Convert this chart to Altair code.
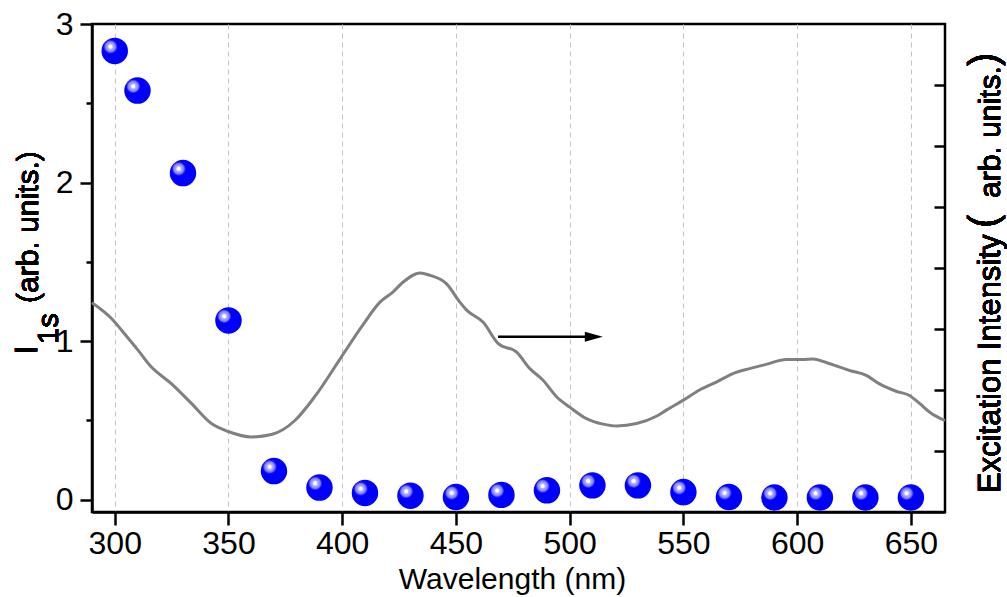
import altair as alt
import pandas as pd

# I_1s data (blue spheres)
wl_pts = [300, 310, 330, 350, 370, 390, 410, 430, 450, 470, 490, 510, 530, 550, 570, 590, 610, 630, 650]
i1s = [2.83, 2.58, 2.06, 1.13, 0.18, 0.076, 0.042, 0.025, 0.016, 0.03, 0.059, 0.09, 0.09, 0.048, 0.016, 0.013, 0.013, 0.013, 0.013]

# Excitation intensity curve (right axis, arb. units)
wl_curve = [290, 299.4, 303, 310.3, 315.5, 325, 333.7, 342.5, 349.9, 360, 368.9, 379.2, 387.9, 399.6,
            408.4, 416.6, 422.4, 426.8, 434.2, 438.6, 445.9, 451.7, 454.7, 462, 468.6, 476.7, 482.5,
            488.3, 494.2, 500, 507.4, 514.7, 520.6, 529.4, 538.1, 542.5, 549.8, 557.1, 564.5, 571.8,
            579.1, 586.4, 595.2, 602.5, 606.9, 614.3, 623.1, 630.4, 636.2, 643.5, 649.4, 653.8, 658.9, 665]
exc = [3.43, 3.14, 2.98, 2.65, 2.40, 2.10, 1.78, 1.45, 1.32, 1.23, 1.27, 1.50, 1.89, 2.54,
       3.03, 3.44, 3.61, 3.77, 3.92, 3.88, 3.74, 3.44, 3.31, 3.11, 2.76, 2.62, 2.35,
       2.16, 1.89, 1.72, 1.53, 1.44, 1.41, 1.45, 1.57, 1.67, 1.83, 2.00, 2.13, 2.27,
       2.35, 2.42, 2.50, 2.50, 2.51, 2.43, 2.32, 2.24, 2.10, 1.98, 1.91, 1.78, 1.62, 1.50]

# arrow annotation (pointing to right axis)
arrow_x = [468.5]
arrow_x2 = [507.0]
arrow_head_x = [510.6]
arrow_y = [1.027]

x_ticks = [300, 350, 400, 450, 500, 550, 600, 650]
y_ticks = [0, 0.5, 1, 1.5, 2, 2.5, 3]
y2_ticks = [1, 2, 3, 4, 5, 6, 7]

FONT = "Liberation Sans"

pts_df = pd.DataFrame({"wl": wl_pts, "i1s": i1s})
curve_df = pd.DataFrame({"wl": wl_curve, "exc": exc})
arrow_df = pd.DataFrame({"x": arrow_x, "x2": arrow_x2, "hx": arrow_head_x, "y": arrow_y})

xscale = alt.Scale(domain=[290, 665], nice=False, zero=False)
yscale = alt.Scale(domain=[-0.078, 3.0], nice=False, zero=False)

x_axis = alt.Axis(
    values=x_ticks, title="Wavelength (nm)", labelFontSize=32, titleFontSize=30,
    tickSize=13, tickWidth=2.5, tickColor="black", domainColor="black", domainWidth=2.5,
    labelPadding=3, labelColor="black", titleColor="black", titleFontWeight="normal",
    grid=True, gridDash=[5, 4], gridColor="#c4c4c4", gridWidth=1,
    titleY=76, titleBaseline="alphabetic", titleX=420, titleAlign="center",
    labelFont=FONT, titleFont=FONT,
)

y_axis = alt.Axis(
    values=y_ticks, title=None, orient="left", labelFontSize=32, labelColor="black",
    labelExpr="datum.value % 1 ? '' : '' + datum.value",
    tickSize={"condition": {"test": "datum.value % 1 !== 0", "value": 6}, "value": 12},
    tickWidth=2.5, tickColor="black", domainColor="black", domainWidth=2.5,
    labelPadding=7, grid=False, labelFont=FONT,
)

sphere_fill = {
    "gradient": "radial",
    "x1": 0.34, "y1": 0.34, "r1": 0.0,
    "x2": 0.34, "y2": 0.34, "r2": 0.26,
    "stops": [
        {"offset": 0.0, "color": "#ffffff"},
        {"offset": 0.25, "color": "#ffffff"},
        {"offset": 0.35, "color": "#b4b4ff"},
        {"offset": 0.75, "color": "#8080ff"},
        {"offset": 1.0, "color": "#0000ff"},
    ],
}

points = alt.Chart(pts_df).mark_circle(size=700, fill=sphere_fill, opacity=1, strokeWidth=0).encode(
    x=alt.X("wl:Q", scale=xscale, axis=x_axis),
    y=alt.Y("i1s:Q", scale=yscale, axis=y_axis),
)

arrow_line = alt.Chart(arrow_df).mark_rule(color="black", strokeWidth=2.5).encode(
    x=alt.X("x:Q", scale=xscale),
    x2="x2:Q",
    y=alt.Y("y:Q", scale=yscale),
)

arrow_head = alt.Chart(arrow_df).mark_point(
    shape="M-1,-0.55L1,0L-1,0.55Z", filled=True, fill="black", size=324, opacity=1, strokeWidth=0
).encode(
    x=alt.X("hx:Q", scale=xscale),
    y=alt.Y("y:Q", scale=yscale),
)


def vtext(txt, x, y, size):
    return alt.Chart(pts_df).mark_text(
        text=txt, angle=270, font=FONT, fontSize=size, align="left",
        baseline="alphabetic", color="black"
    ).encode(x=alt.value(x), y=alt.value(y))


# left axis title: I_1s (arb. units.)
title_I = vtext("I", -55, 330, 31)
title_sub = vtext("1s", -34, 320, 29)
title_rest = vtext("(arb. units.)", -54, 279, 30)

# right axis title: Excitation Intensity (arb. units.) with large parentheses
rt_main = vtext("Excitation Intensity", 908, 469, 31)
rt_open = vtext("(", 905, 204, 40)
rt_mid = vtext("arb. units.", 908, 174, 30)
rt_close = vtext(")", 905, 42, 40)

left_layer = alt.layer(points, arrow_line, arrow_head, title_I, title_sub, title_rest,
                       rt_main, rt_open, rt_mid, rt_close)

curve = alt.Chart(curve_df).mark_line(color="#808080", strokeWidth=3, interpolate="monotone").encode(
    x=alt.X("wl:Q", scale=xscale),
    y=alt.Y(
        "exc:Q",
        scale=alt.Scale(domain=[0, 8], nice=False, zero=False),
        axis=alt.Axis(
            orient="right", values=y2_ticks, labels=False, domain=False, grid=False,
            tickSize=11, tickWidth=2.5, tickColor="black", offset=-11, title=None,
        ),
    ),
)

chart = alt.layer(left_layer, curve).resolve_scale(y="independent").properties(
    width=853, height=488,
    autosize=alt.AutoSizeParams(type="none"),
    padding={"left": 92, "top": 24, "right": 62, "bottom": 85},
    background="white",
).configure_view(stroke="black", strokeWidth=2.5)

chart.save("out.html", embed_options={"renderer": "svg", "actions": False})
